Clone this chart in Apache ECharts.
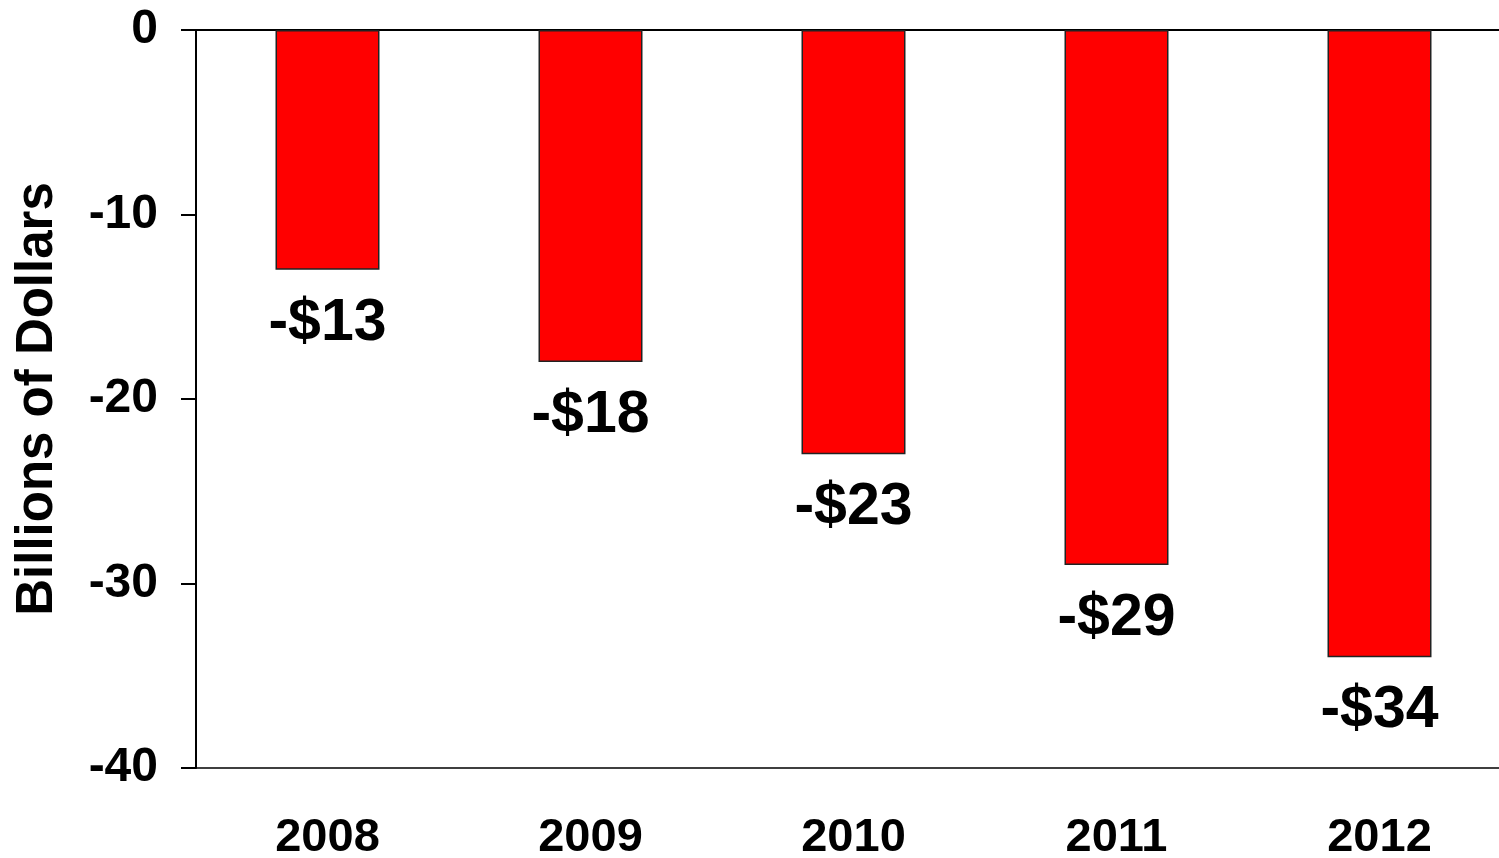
<!DOCTYPE html>
<html>
<head>
<meta charset="utf-8">
<script src="https://cdn.jsdelivr.net/npm/echarts@6/dist/echarts.min.js"></script>
<style>
  html, body { margin: 0; padding: 0; background: #fff; }
  #chart { width: 1499px; height: 858px; }
</style>
</head>
<body>
<div id="chart"></div>
<script>
// Annual change, billions of dollars
const years = ['2008', '2009', '2010', '2011', '2012'];
const values = [-13, -18, -23, -29, -34];
const yTicks = { min: -40, max: 0, interval: 10 };
const axisTitle = 'Billions of Dollars';

const FONT = '"Liberation Sans", Arial, Helvetica, sans-serif';

const chart = echarts.init(document.getElementById('chart'), null, { renderer: 'canvas' });

chart.setOption({
  animation: false,
  backgroundColor: '#ffffff',
  grid: {
    left: 196, top: 30, bottom: 90, right: -12,
    containLabel: false, outerBoundsMode: 'none'
  },
  xAxis: [
    {
      type: 'category',
      data: years,
      position: 'bottom',
      axisLine: { onZero: false, lineStyle: { color: '#000', width: 1.5 } },
      axisTick: { show: false },
      axisLabel: {
        color: '#000', fontFamily: FONT, fontWeight: 'bold', fontSize: 47, margin: 47
      },
      splitLine: { show: false }
    },
    {
      // zero line along the top of the plot
      type: 'category',
      data: years,
      position: 'top',
      axisLine: { onZero: false, lineStyle: { color: '#000', width: 2 } },
      axisTick: { show: false },
      axisLabel: { show: false },
      splitLine: { show: false }
    }
  ],
  yAxis: {
    type: 'value',
    min: yTicks.min,
    max: yTicks.max,
    interval: yTicks.interval,
    name: axisTitle,
    nameLocation: 'middle',
    nameGap: 133,
    nameRotate: 90,
    nameTextStyle: { color: '#000', fontFamily: FONT, fontWeight: 'bold', fontSize: 51 },
    axisLine: { show: true, lineStyle: { color: '#000', width: 2 } },
    axisTick: { show: true, inside: false, length: 15, lineStyle: { color: '#000', width: 2 } },
    axisLabel: {
      color: '#000', fontFamily: FONT, fontWeight: 'bold', fontSize: 48, margin: 38
    },
    splitLine: { show: false }
  },
  series: [{
    type: 'bar',
    data: values,
    barWidth: 104,
    itemStyle: { color: '#ff0000', borderColor: '#222', borderWidth: 1.5 },
    label: {
      show: true,
      position: 'bottom',
      distance: 24,
      color: '#000',
      fontFamily: FONT,
      fontWeight: 'bold',
      fontSize: 59,
      formatter: p => '-$' + Math.abs(p.value)
    }
  }]
});
</script>
</body>
</html>
